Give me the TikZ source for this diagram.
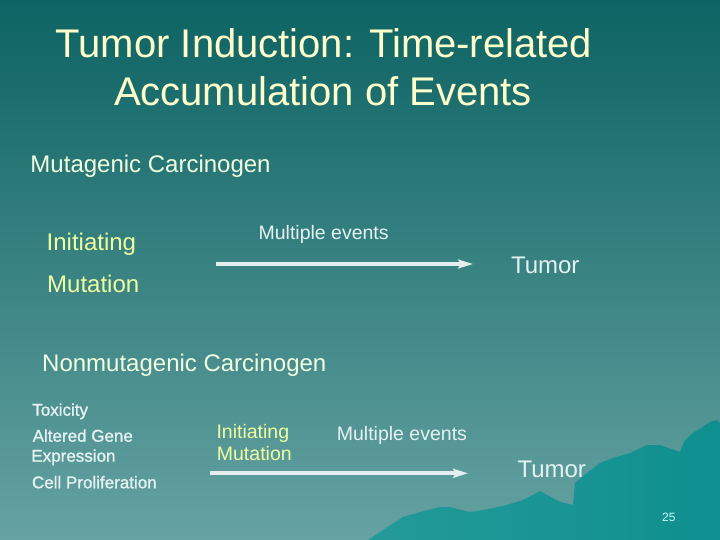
\documentclass[tikz,border=0pt]{standalone}
\usepackage{fontspec}
\setmainfont{Liberation Sans}
\newfontfamily\fboldfont[FakeBold=1.2]{Liberation Sans}
\usetikzlibrary{arrows.meta}
\definecolor{bgtop}{HTML}{0D6363}
\definecolor{bgbot}{HTML}{66A2A2}
\definecolor{mountL}{HTML}{249A9A}
\definecolor{mountR}{HTML}{0F8F8F}
\definecolor{titlecol}{HTML}{FFFFCC}
\definecolor{headcol}{HTML}{F0FFE0}
\definecolor{initcol}{HTML}{EEFFA0}
\definecolor{lightcol}{HTML}{E6F2F2}
\definecolor{arrowcol}{HTML}{E4EEEE}
\definecolor{pagecol}{HTML}{CCFFFF}
\tikzset{
  txt/.style={inner sep=0pt, outer sep=0pt, anchor=base west},
  titletxt/.style={inner sep=0pt, outer sep=0pt, anchor=base, text=titlecol, font=\fontsize{40}{48}\selectfont},
  headtxt/.style={txt, text=headcol, font=\fontsize{24}{28}\selectfont},
  inittxt/.style={txt, text=initcol},
  lighttxt/.style={txt, text=lightcol},
  smalltxt/.style={txt, text=lightcol, font=\fboldfont\fontsize{17}{20}\selectfont},
  flow/.style={draw=arrowcol, line width=4pt, -{Stealth[length=15pt,width=9pt,inset=3pt]}}
}
\begin{document}
\begin{tikzpicture}[x=1pt,y=-1pt]
\useasboundingbox (0,0) rectangle (720,540);
\shade[top color=bgtop, bottom color=bgbot] (0,0) rectangle (720,540);
% mountain
\shade[left color=mountL, right color=mountR]
  (368,540) -- (380,532) -- (403,517) -- (420,512) -- (440,507) -- (450,507) -- (470,512)
  -- (483,510) -- (503,506) -- (523,500) -- (540,491) -- (547,495) -- (560,502)
  -- (573,505) -- (575,483) -- (587,473) -- (600,463) -- (613,458) -- (630,453)
  -- (647,445) -- (660,445) -- (680,452) -- (685,440) -- (693,433) -- (710,422)
  -- (717,420) -- (720,423) -- (720,540) -- cycle;
% title
\node[titletxt] (t1) at (324,57.7) {Tumor Induction: Time-related};
\node[titletxt] (t2) at (323,106) {Accumulation of Events};
% mutagenic
\node[headtxt] (mc) at (30.5,173) {Mutagenic Carcinogen};
\node[inittxt, font=\fontsize{24}{28}\selectfont] (ini1) at (46.7,250) {Initiating};
\node[inittxt, font=\fontsize{24}{28}\selectfont] (mut1) at (47.2,292.7) {Mutation};
\node[lighttxt, font=\fontsize{19.5}{23}\selectfont] (me1) at (258.6,239.3) {Multiple events};
\coordinate (a1s) at (216,264);
\node[lighttxt, font=\fontsize{24}{28}\selectfont] (tu1) at (511,273.3) {Tumor};
\coordinate (a1e) at (473,264);
\draw[flow] (a1s) -- (a1e);
% nonmutagenic
\node[headtxt] (nc) at (42.2,371.7) {Nonmutagenic Carcinogen};
\node[smalltxt] (tox) at (32.3,415.7) {Toxicity};
\node[smalltxt] (age) at (32.7,441.7) {Altered Gene};
\node[smalltxt] (exp) at (31.4,461.7) {Expression};
\node[smalltxt] (cp) at (32,488.3) {Cell Proliferation};
\node[inittxt, font=\fontsize{19.5}{23}\selectfont] (ini2) at (216.5,438) {Initiating};
\node[inittxt, font=\fontsize{19.5}{23}\selectfont] (mut2) at (216.9,460) {Mutation};
\node[lighttxt, font=\fontsize{19.5}{23}\selectfont] (me2) at (336.9,440.7) {Multiple events};
\coordinate (a2s) at (210,473.3);
\coordinate (a2e) at (468,473.3);
\draw[flow] (a2s) -- (a2e);
\node[lighttxt, font=\fontsize{24}{28}\selectfont] (tu2) at (517.5,477.3) {Tumor};
\node[txt, text=pagecol, font=\fontsize{12}{14}\selectfont] (pg) at (662.2,521.7) {25};
\end{tikzpicture}
\end{document}
